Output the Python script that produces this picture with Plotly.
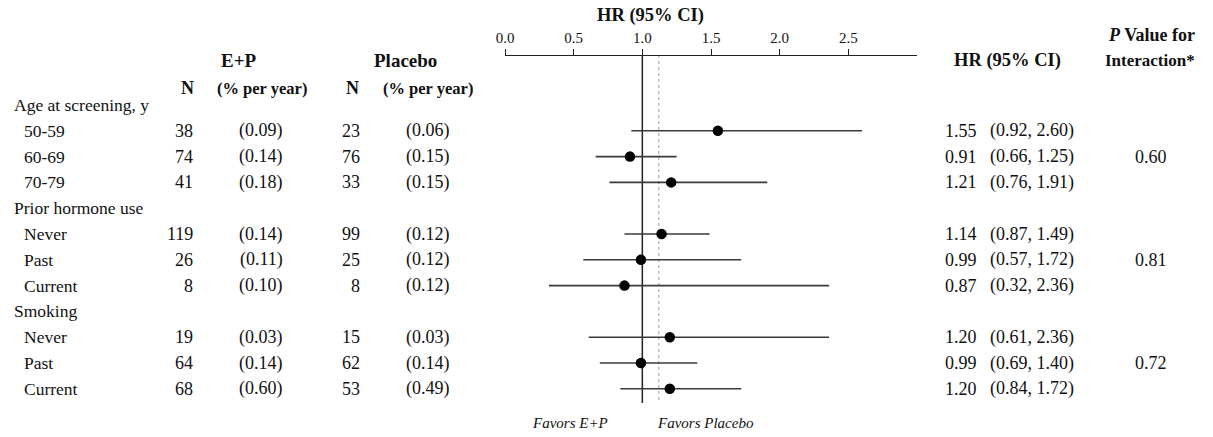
import plotly.graph_objects as go

# ---------------- data ----------------
groups = ["Age at screening, y", "Prior hormone use", "Smoking"]
subgroups = [["50-59", "60-69", "70-79"],
             ["Never", "Past", "Current"],
             ["Never", "Past", "Current"]]
ep_n = [38, 74, 41, 119, 26, 8, 19, 64, 68]
ep_rate = ["(0.09)", "(0.14)", "(0.18)", "(0.14)", "(0.11)", "(0.10)", "(0.03)", "(0.14)", "(0.60)"]
pl_n = [23, 76, 33, 99, 25, 8, 15, 62, 53]
pl_rate = ["(0.06)", "(0.15)", "(0.15)", "(0.12)", "(0.12)", "(0.12)", "(0.03)", "(0.14)", "(0.49)"]
hr = [1.55, 0.91, 1.21, 1.14, 0.99, 0.87, 1.20, 0.99, 1.20]
ci_lo = [0.92, 0.66, 0.76, 0.87, 0.57, 0.32, 0.61, 0.69, 0.84]
ci_hi = [2.60, 1.25, 1.91, 1.49, 1.72, 2.36, 2.36, 1.40, 1.72]
p_interaction = ["0.60", "0.81", "0.72"]
tick_vals = [0.0, 0.5, 1.0, 1.5, 2.0, 2.5]
tick_text = ["0.0", "0.5", "1.0", "1.5", "2.0", "2.5"]
null_hr = 1.0
overall_hr = 1.12

# ---------------- layout constants ----------------
W, H = 1213, 437
ROW0_PX, ROW_STEP = 105, 25.8
FONT = "Liberation Serif, Times New Roman, serif"
FS_LBL = 17.5
FS_NUM = 18
TXT = "#111111"


def px(x):
    return x / W


def py(y):
    return 1 - y / H


# row indices: group header then its 3 subgroups
group_rows, item_rows = [], []
k = 0
for g, subs in zip(groups, subgroups):
    group_rows.append(k)
    k += 1
    for s in subs:
        item_rows.append(k)
        k += 1
item_labels = [s for subs in subgroups for s in subs]

y_top = -ROW0_PX / ROW_STEP
y_bot = (H - ROW0_PX) / ROW_STEP

fig = go.Figure()

fig.add_trace(go.Scatter(
    x=hr, y=item_rows, mode="markers",
    marker=dict(color="black", size=10.5),
    error_x=dict(type="data", symmetric=False,
                 array=[h - e for e, h in zip(hr, ci_hi)],
                 arrayminus=[e - l for e, l in zip(hr, ci_lo)],
                 width=0, thickness=1.6, color="#3a3a3a"),
    showlegend=False, hoverinfo="skip",
))

axis_pos = py(55)
fig.add_shape(type="line", xref="x", yref="paper", x0=null_hr, x1=null_hr,
              y0=axis_pos, y1=py(403), line=dict(color="#222222", width=1.5), layer="below")
fig.add_shape(type="line", xref="x", yref="paper", x0=overall_hr, x1=overall_hr,
              y0=axis_pos, y1=py(403), line=dict(color="#9a9a9a", width=1, dash="dot"), layer="below")

ann = []


def add(text, x, y, xanchor="center", yref="y", bold=False, italic=False, size=FS_NUM):
    t = text
    if bold:
        t = "<b>" + t + "</b>"
    if italic:
        t = "<i>" + t + "</i>"
    ann.append(dict(text=t, x=x, y=y, xref="paper", yref=yref, xanchor=xanchor,
                    yanchor="middle", showarrow=False,
                    font=dict(family=FONT, size=size, color=TXT)))


for g, r in zip(groups, group_rows):
    add(g, px(12), r, xanchor="left", size=FS_LBL)
for s, r in zip(item_labels, item_rows):
    add(s, px(22), r, xanchor="left", size=FS_LBL)

for i, r in enumerate(item_rows):
    add(str(ep_n[i]), px(195), r, xanchor="right")
    add(ep_rate[i], px(261), r)
    add(str(pl_n[i]), px(362), r, xanchor="right")
    add(pl_rate[i], px(428), r)
    add(f"{hr[i]:.2f}", px(943), r, xanchor="left")
    add(f"({ci_lo[i]:.2f}, {ci_hi[i]:.2f})", px(988), r, xanchor="left")

for p, r in zip(p_interaction, group_rows):
    add(p, px(1151), r + 2)

# headers
add("E+P", px(239), py(60), yref="paper", bold=True, size=19)
add("Placebo", px(405), py(60), yref="paper", bold=True, size=19)
add("N", px(187), py(88), yref="paper", bold=True, size=18)
add("(% per year)", px(262), py(88), yref="paper", bold=True, size=16.5)
add("N", px(352), py(88), yref="paper", bold=True, size=18)
add("(% per year)", px(428), py(88), yref="paper", bold=True, size=16.5)
add("HR (95% CI)", px(650), py(16), yref="paper", bold=True, size=18.5)
add("HR (95% CI)", px(1007), py(60), yref="paper", bold=True, size=18.5)
add("<i>P</i> Value for", px(1151), py(35), yref="paper", bold=True, size=18)
add("Interaction*", px(1150), py(60), yref="paper", bold=True, size=17)
add("Favors E+P", px(570), py(423), yref="paper", italic=True, size=15)
add("Favors Placebo", px(705), py(423), yref="paper", italic=True, size=15)

fig.update_layout(
    width=W, height=H, autosize=False,
    margin=dict(l=0, r=0, t=0, b=0),
    paper_bgcolor="white", plot_bgcolor="white",
    annotations=ann,
    xaxis=dict(domain=[px(505), px(917)], range=[0, 3], side="top",
               anchor="free", position=axis_pos,
               tickvals=tick_vals, ticktext=tick_text,
               showline=True, linecolor="#222222", linewidth=1.2,
               ticks="outside", ticklen=6, tickwidth=1.2, tickcolor="#222222",
               showgrid=False, zeroline=False, automargin=False,
               tickfont=dict(family=FONT, size=15, color=TXT)),
    yaxis=dict(range=[y_bot, y_top], visible=False, showgrid=False,
               zeroline=False, automargin=False, domain=[0, 1]),
)

fig.write_html("out.html", config={"displayModeBar": False},
               post_script="document.body.style.margin='0';document.body.style.overflow='hidden';")
